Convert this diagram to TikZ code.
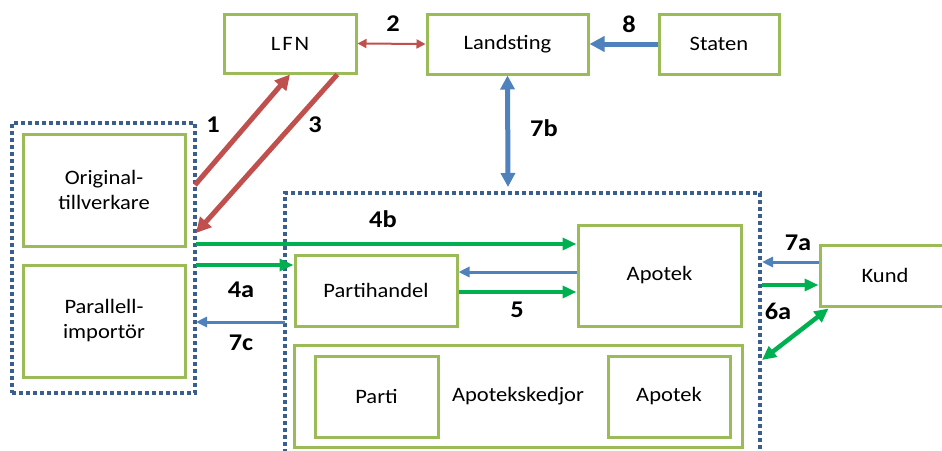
\documentclass[tikz,border=0pt]{standalone}
\usepackage{fontspec}
\setmainfont{Carlito}[FakeStretch=1.1]
\usetikzlibrary{arrows.meta,calc}
\definecolor{boxgreen}{HTML}{9BBB59}
\definecolor{arred}{HTML}{C0504D}
\definecolor{arblue}{HTML}{4F81BD}
\definecolor{argreen}{HTML}{00B050}
\definecolor{dotblue}{HTML}{3A5F8E}
\tikzset{
  box/.style={draw=boxgreen, line width=3pt, fill=white, inner sep=0pt, align=center,
    font=\fontsize{20.5}{25}\selectfont},
  grp/.style={draw=dotblue, line width=3.6pt, dash pattern=on 3.6pt off 3.4pt},
  lbl/.style={font=\fontsize{24}{28}\selectfont\bfseries, inner sep=0pt},
  redfat/.style={draw=arred, line width=5pt, -{Triangle[length=15pt,width=15pt]}},
  redthin/.style={draw=arred, line width=2pt, {Triangle[length=9pt,width=9pt]}-{Triangle[length=9pt,width=9pt]}},
  bluefat/.style={draw=arblue, line width=5pt, -{Triangle[length=15pt,width=15pt]}},
  bluefatdbl/.style={draw=arblue, line width=5pt, {Triangle[length=14pt,width=14pt]}-{Triangle[length=14pt,width=14pt]}},
  bluethin/.style={draw=arblue, line width=3pt, -{Triangle[length=11pt,width=10pt]}},
  greenarr/.style={draw=argreen, line width=4pt, -{Triangle[length=14pt,width=12pt]}},
  greendbl/.style={draw=argreen, line width=4.5pt, {Triangle[length=14pt,width=13pt]}-{Triangle[length=14pt,width=13pt]}},
}
\begin{document}
\begin{tikzpicture}[x=1pt,y=-1pt]
\useasboundingbox[fill=white] (0,0) rectangle (942,450);
% groups
\node[grp, minimum width=183pt, minimum height=270pt, inner sep=0pt] (leftgrp) at (103.5,258) {};
\draw[grp] (285,460) -- (285,193) -- (760,193) -- (760,460);
\coordinate (midtop) at (508,187);
% boxes
\node[box, minimum width=132pt, minimum height=59pt] (lfn) at (290,43.5) {L\kern2ptF\kern2ptN};
\node[box, minimum width=161pt, minimum height=60pt] (land) at (507.5,44) {Landsting};
\node[box, minimum width=120pt, minimum height=60pt] (staten) at (719,44) {Staten};
\node[box, minimum width=162pt, minimum height=112pt] (orig) at (104,190) {Original-\\tillverkare};
\node[box, minimum width=162pt, minimum height=112pt] (para) at (104,321) {Parallell-\\importör};
\node[box, minimum width=162pt, minimum height=71pt] (part) at (376,290.5) {Partihandel};
\node[box, minimum width=163pt, minimum height=101pt] (apotek) at (659.5,275.5) {Apotek};
\node[box, minimum width=130pt, minimum height=61pt] (kund) at (885,275.5) {Kund};
\node[box, minimum width=448pt, minimum height=102pt] (kedja) at (518,396) {Apotekskedjor};
\node[box, minimum width=123pt, minimum height=81pt] (parti) at (376.5,396.5) {Parti};
\node[box, minimum width=122pt, minimum height=81pt] (apotek2) at (669,396.5) {Apotek};
% endpoints on group borders
\coordinate (g1) at (195,185);
\coordinate (g3) at (196,233);
\coordinate (g4b) at (196,244);
\coordinate (g4a) at (196,265);
\coordinate (g7c) at (196,322);
\coordinate (m7c) at (285,322);
\coordinate (r7a) at (762,262);
\coordinate (r6a) at (762,285);
\coordinate (r6b) at (762,360);
% connectors
\draw[redfat] (g1) -- (lfn.south);
\draw[redfat] ($(lfn.south)!0.7!(lfn.south east)$) -- (g3);
\draw[redthin] (lfn.east) -- (land.west);
\draw[bluefat] (staten.west) -- (land.east);
\draw[bluefatdbl] (land.south) -- (midtop);
\draw[greenarr] (g4b) -- (apotek.west |- 0,244);
\draw[greenarr] (g4a) -- (part.west |- 0,265);
\draw[bluethin] (m7c) -- (g7c);
\draw[bluethin] (apotek.west |- 0,272) -- (part.east |- 0,272);
\draw[greenarr] (part.east |- 0,292) -- (apotek.west |- 0,292);
\draw[bluethin] (kund.west |- 0,262) -- (r7a);
\draw[greenarr] (r6a) -- (kund.west |- 0,285);
\draw[greendbl] ($(kund.south west)+(10,1)$) -- (r6b);
% labels
\node[lbl] (l1) at (213,125) {1};
\node[lbl] (l2) at (393,24) {2};
\node[lbl] (l3) at (315,125) {3};
\node[lbl] (l8) at (629,24) {8};
\node[lbl] (l7b) at (544,128) {7b};
\node[lbl] (l4b) at (383,219) {4b};
\node[lbl] (l4a) at (241,290) {4a};
\node[lbl] (l7c) at (241,343) {7c};
\node[lbl] (l5) at (517,310) {5};
\node[lbl] (l7a) at (798,243) {7a};
\node[lbl] (l6a) at (778,311) {6a};
\end{tikzpicture}
\end{document}
